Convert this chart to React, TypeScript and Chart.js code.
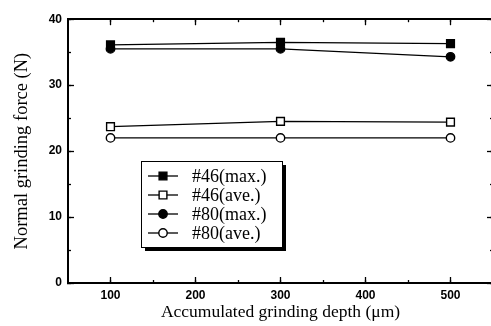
import React, { useEffect, useRef } from 'react';
import { Chart, registerables } from 'chart.js';
import { drawPoint } from 'chart.js/helpers';

Chart.register(...registerables);

const depths = [100, 300, 500];
const max46 = [36.1, 36.5, 36.3];
const ave46 = [23.7, 24.5, 24.4];
const max80 = [35.5, 35.5, 34.3];
const ave80 = [22.0, 22.0, 22.0];
const seriesLabels = ['#46(max.)', '#46(ave.)', '#80(max.)', '#80(ave.)'];
const xTickValues = [100, 200, 300, 400, 500];
const yTickValues = [0, 10, 20, 30, 40];
const xTitle = 'Accumulated grinding depth (\u03bcm)';
const yTitle = 'Normal grinding force (N)';

const legendPlugin = {
  id: 'boxLegend',
  afterDraw(chart: any) {
    const ctx = chart.ctx as CanvasRenderingContext2D;
    const x = 141, y = 161, w = 141, h = 86;
    ctx.save();
    ctx.fillStyle = '#000';
    ctx.fillRect(x + 4, y + 4, w, h);
    ctx.fillStyle = '#fff';
    ctx.fillRect(x, y, w, h);
    ctx.strokeStyle = '#000';
    ctx.lineWidth = 1;
    ctx.strokeRect(x + 0.5, y + 0.5, w, h);
    chart.data.datasets.forEach((ds: any, i: number) => {
      const cy = y + 15 + i * 19;
      ctx.beginPath();
      ctx.strokeStyle = '#000';
      ctx.lineWidth = 1.3;
      ctx.moveTo(x + 7, cy);
      ctx.lineTo(x + 37, cy);
      ctx.stroke();
      ctx.fillStyle = ds.pointBackgroundColor;
      ctx.strokeStyle = '#000';
      ctx.lineWidth = ds.pointBorderWidth;
      drawPoint(ctx, { pointStyle: ds.pointStyle, radius: ds.pointRadius, borderWidth: ds.pointBorderWidth, rotation: 0 } as any, x + 22, cy);
      ctx.fillStyle = '#000';
      ctx.font = '18px "Liberation Serif"';
      ctx.textBaseline = 'middle';
      ctx.textAlign = 'left';
      ctx.fillText(ds.label, x + 51, cy + 1);
    });
    ctx.restore();
  },
};

const tickFont = { family: '"Liberation Sans", Arial, sans-serif', size: 12, weight: 'bold' as const };
const xTitleFont = { family: '"Liberation Serif", serif', size: 17.5 };
const yTitleFont = { family: '"Liberation Serif", serif', size: 18.5 };

function frameAxis(position: string, axisType: 'x' | 'y', min: number, max: number, step: number, len: number, weight: number, size: number, extra: any = {}) {
  return {
    type: 'linear',
    axis: axisType,
    position,
    min,
    max,
    weight,
    ticks: { display: false, stepSize: step },
    grid: { drawOnChartArea: false, drawTicks: true, tickLength: -len, tickWidth: 1.3, tickColor: '#000' },
    border: { display: true, color: '#000', width: 2 },
    afterFit: (s: any) => {
      if (axisType === 'x') s.height = size; else s.width = size;
    },
    ...extra,
  };
}

export default function App() {
  const ref = useRef<HTMLCanvasElement | null>(null);
  useEffect(() => {
    if (!ref.current) return;
    const mk = (label: string, data: number[], style: string, filled: boolean) => ({
      label,
      data: depths.map((d, i) => ({ x: d, y: data[i] })),
      borderColor: '#000',
      borderWidth: 1.3,
      pointStyle: style,
      pointRadius: style === 'rect' ? 5.5 : 4.2,
      pointBorderWidth: 1.4,
      pointBackgroundColor: filled ? '#000' : '#fff',
      pointBorderColor: '#000',
      tension: 0,
    });
    const chart = new Chart(ref.current, {
      type: 'line',
      data: {
        datasets: [
          mk(seriesLabels[0], max46, 'rect', true),
          mk(seriesLabels[1], ave46, 'rect', false),
          mk(seriesLabels[2], max80, 'circle', true),
          mk(seriesLabels[3], ave80, 'circle', false),
        ],
      },
      options: {
        animation: false,
        responsive: false,
        layout: { padding: { top: 15, right: 7, left: 0, bottom: 0 }, autoPadding: false },
        plugins: { legend: { display: false }, tooltip: { enabled: false } },
        scales: {
          x: frameAxis('bottom', 'x', 50, 550, 100, 6, 1, 43, {
            ticks: { display: true, color: '#000', font: tickFont, padding: 11, maxRotation: 0 },
            afterBuildTicks: (s: any) => { s.ticks = xTickValues.map((v) => ({ value: v })); },
            title: { display: true, text: xTitle, color: '#000', font: xTitleFont, padding: { bottom: 3, top: 0 } },
          }),
          xMinor: frameAxis('bottom', 'x', 50, 550, 50, 3, 0, 0, {
            afterBuildTicks: (s: any) => { s.ticks = s.ticks.filter((t: any) => t.value > 50 && t.value < 550); },
          }),
          xTop: frameAxis('top', 'x', 50, 550, 100, 6, 1, 0, {
            afterBuildTicks: (s: any) => { s.ticks = xTickValues.map((v) => ({ value: v })); },
          }),
          xTopMinor: frameAxis('top', 'x', 50, 550, 50, 3, 0, 0, {
            afterBuildTicks: (s: any) => { s.ticks = s.ticks.filter((t: any) => t.value > 50 && t.value < 550); },
          }),
          y: frameAxis('left', 'y', 0, 40, 10, 6, 1, 68, {
            ticks: { display: true, color: '#000', font: tickFont, padding: 12 },
            afterBuildTicks: (s: any) => { s.ticks = yTickValues.map((v) => ({ value: v })); },
            title: { display: true, text: yTitle, color: '#000', font: yTitleFont, padding: { top: 11, bottom: 0 } },
          }),
          yMinor: frameAxis('left', 'y', 0, 40, 5, 3, 0, 0),
          yRight: frameAxis('right', 'y', 0, 40, 10, 6, 1, 0),
          yRightMinor: frameAxis('right', 'y', 0, 40, 5, 3, 0, 0),
        },
      } as any,
      plugins: [legendPlugin],
    });
    return () => chart.destroy();
  }, []);
  return (
    <div style={{ position: 'absolute', left: 0, top: 0, width: 491, height: 326, overflow: 'hidden', background: '#fff' }}>
      <canvas ref={ref} width={500} height={326} style={{ display: 'block', width: 500, height: 326 }} />
    </div>
  );
}
